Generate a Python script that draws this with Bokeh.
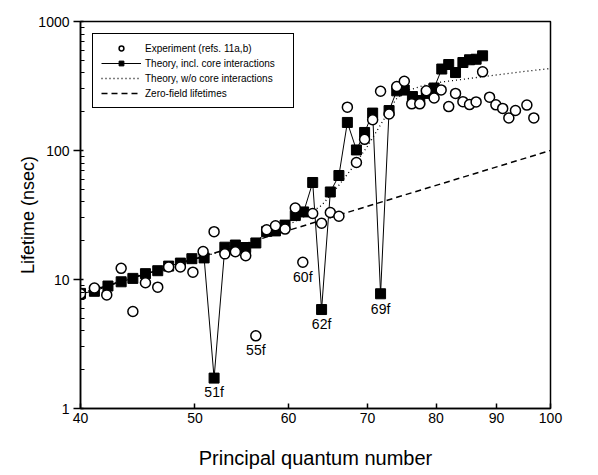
from bokeh.plotting import figure
from bokeh.models import (Range1d, FixedTicker, PrintfTickFormatter, Legend,
                          LegendItem, ColumnDataSource)
from bokeh.core.properties import value
from bokeh.embed import file_html
from bokeh.resources import INLINE

FONT = "Liberation Sans"

# Theory, incl. core interactions (filled squares)
theory_n = [40.0, 41.1, 42.2, 43.3, 44.3, 45.4, 46.5, 47.5, 48.6, 49.7, 50.9,
            51.9, 53.0, 54.1, 55.2, 56.3, 57.5, 58.5, 59.6, 60.8, 61.8, 62.9,
            64.0, 65.1, 66.2, 67.3, 68.5, 69.6, 70.7, 71.8, 73.0, 74.1, 75.2,
            76.4, 77.5, 78.5, 79.7, 80.9, 82.0, 83.1, 84.3, 85.4, 86.5, 87.6]
theory_v = [7.8, 8.1, 8.9, 9.6, 10.2, 11.1, 11.7, 12.7, 13.4, 14.5, 14.7,
            1.72, 17.8, 18.5, 17.7, 19.2, 23.6, 23.8, 26.4, 31.3, 33.4, 56.5,
            5.85, 47.7, 64, 165, 101, 138, 195, 7.75, 204, 290, 294,
            262, 244, 277, 305, 428, 464, 402, 481, 505, 510, 542]

# Experiment (open circles)
exp_n = [40.0, 41.1, 42.1, 43.3, 44.3, 45.4, 46.5, 47.5, 48.6, 49.8, 50.8,
         51.9, 53.0, 54.1, 55.2, 56.3, 57.5, 58.5, 59.6, 60.8, 61.7, 62.9,
         64.0, 65.1, 66.2, 67.3, 68.5, 69.6, 70.7, 71.8, 73.0, 74.1, 75.2,
         76.3, 77.5, 78.5, 79.7, 80.8, 82.0, 83.1, 84.3, 85.4, 86.5, 87.6,
         88.8, 89.9, 91.1, 92.2, 93.4, 95.5, 96.8]
exp_v = [7.75, 8.6, 7.6, 12.2, 5.65, 9.43, 8.72, 12.5, 12.5, 11.4, 16.5,
         23.5, 15.8, 16.4, 15.3, 3.66, 24.3, 26.1, 24.6, 35.8, 13.6, 32.5,
         27.3, 33.1, 30.9, 216.7, 80.7, 122, 173, 288, 192, 313, 344,
         230, 230, 290, 255, 295, 219, 277, 239, 227, 238, 407,
         259, 226, 212, 179, 204, 225, 179]

# Theory, w/o core interactions (dotted)
nocore_n = [40, 45, 50, 55, 58, 60, 62, 64, 66, 68, 70, 72, 74, 75.5, 78,
            80, 85, 90, 95, 100]
nocore_v = [7.8, 10.9, 14.4, 18.6, 22.5, 26.5, 31, 37.5, 52, 74, 108, 165,
            250, 290, 318, 335, 360, 385, 410, 432]

# Zero-field lifetimes (dashed)
zf_n = [40, 100]
zf_v = [7.75, 100]

# Annotations of perturbing states
lab_text = ["51f", "55f", "60f", "62f", "69f"]
lab_n = [51.9, 56.3, 61.7, 64.0, 71.8]
lab_v = [1.72, 3.66, 13.6, 5.85, 7.75]
lab_dy = [6, 6, 7, 6, 7]

x_ticks = [40, 50, 60, 70, 80, 90, 100]
y_ticks = [1, 10, 100, 1000]
y_minor = [m * d for d in (1, 10, 100) for m in range(2, 10)]

p = figure(width=598, height=475, x_axis_type="log", y_axis_type="log",
           x_range=Range1d(40, 100), y_range=Range1d(1, 1000),
           output_backend="svg", toolbar_location=None,
           min_border_left=80, min_border_right=48, min_border_top=21,
           min_border_bottom=67)
p.xgrid.visible = False
p.ygrid.visible = False
p.outline_line_color = "black"
p.outline_line_width = 1.5
p.outline_line_alpha = 1.0
p.background_fill_color = "white"
p.border_fill_color = "white"

r_dot = p.line(nocore_n, nocore_v, line_color="black", line_width=1.3,
               line_dash="1 3")
r_dash = p.line(zf_n, zf_v, line_color="black", line_width=1.5,
                line_dash="6 4")
r_tl = p.line(theory_n, theory_v, line_color="black", line_width=1)
r_sq = p.scatter(theory_n, theory_v, marker="square", size=10,
                 fill_color="black", line_color="black")
r_ci = p.scatter(exp_n, exp_v, marker="circle", size=10, fill_color="white",
                 line_color="black", line_width=1.5)

src = ColumnDataSource(dict(x=lab_n, y=lab_v, t=lab_text, dy=lab_dy))
p.text(x="x", y="y", text="t", y_offset="dy", source=src,
       text_align="center", text_baseline="top",
       text_font=value(FONT), text_font_size="14px", text_color="black")

# axes
p.xaxis.ticker = FixedTicker(ticks=x_ticks, minor_ticks=[])
p.xaxis.formatter = PrintfTickFormatter(format="%d")
p.yaxis.ticker = FixedTicker(ticks=y_ticks, minor_ticks=y_minor)
p.yaxis.formatter = PrintfTickFormatter(format="%d")

for ax in (p.xaxis, p.yaxis):
    ax.axis_line_color = "black"
    ax.axis_line_width = 1.5
    ax.major_tick_line_color = "black"
    ax.major_tick_line_width = 1.5
    ax.minor_tick_line_color = "black"
    ax.minor_tick_line_width = 1.2
    ax.major_label_text_font = FONT
    ax.major_label_text_font_size = "14px"
    ax.major_label_text_color = "black"
    ax.axis_label_text_font = FONT
    ax.axis_label_text_font_style = "normal"
    ax.axis_label_text_color = "black"

p.xaxis.major_tick_in = 5
p.xaxis.major_tick_out = 0
p.xaxis.minor_tick_in = 0
p.xaxis.minor_tick_out = 0
p.xaxis.major_label_standoff = 4
p.xaxis.axis_label = "Principal quantum number"
p.xaxis.axis_label_text_font_size = "20px"
p.xaxis.axis_label_standoff = 21

p.yaxis.major_tick_in = 3
p.yaxis.major_tick_out = 7
p.yaxis.minor_tick_in = 4
p.yaxis.minor_tick_out = 0
p.yaxis.major_label_standoff = 4
p.yaxis.axis_label = "Lifetime (nsec)"
p.yaxis.axis_label_text_font_size = "18px"
p.yaxis.axis_label_standoff = -3

legend = Legend(items=[
    LegendItem(label="Experiment (refs. 11a,b)", renderers=[r_ci]),
    LegendItem(label="Theory, incl. core interactions", renderers=[r_tl, r_sq]),
    LegendItem(label="Theory, w/o core interactions", renderers=[r_dot]),
    LegendItem(label="Zero-field lifetimes", renderers=[r_dash]),
], location="top_left")
legend.margin = 12
legend.padding = 8
legend.spacing = 3
legend.glyph_height = 12
legend.label_height = 12
legend.glyph_width = 40
legend.label_standoff = 4
legend.label_width = 140
legend.label_text_font = FONT
legend.label_text_font_size = "10px"
legend.label_text_color = "black"
legend.border_line_color = "black"
legend.border_line_width = 1
legend.border_line_alpha = 1
legend.background_fill_color = "white"
legend.background_fill_alpha = 1
p.add_layout(legend)

open("out.html", "w").write(file_html(p, INLINE))
